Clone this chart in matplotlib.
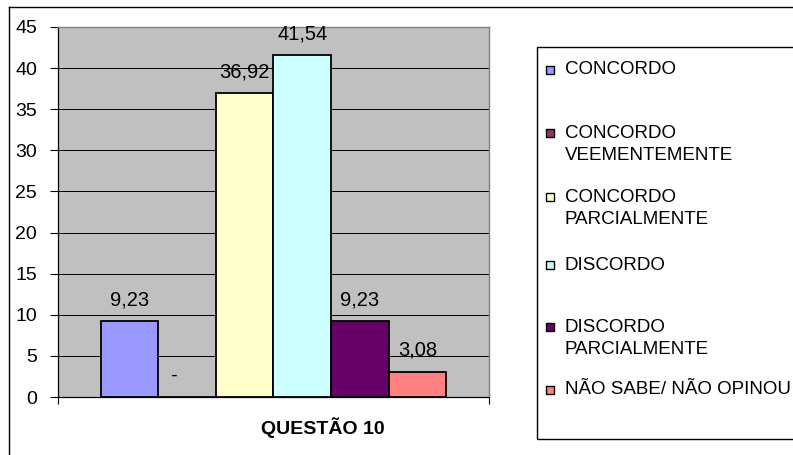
import matplotlib
matplotlib.use("Agg")
import matplotlib.pyplot as plt
from matplotlib.patches import Rectangle
from matplotlib.lines import Line2D
import numpy as np

plt.rcParams['font.family'] = ['Liberation Sans', 'DejaVu Sans']

categories = ["CONCORDO", "CONCORDO\nVEEMENTEMENTE", "CONCORDO\nPARCIALMENTE",
              "DISCORDO", "DISCORDO\nPARCIALMENTE", "NÃO SABE/ NÃO OPINOU"]
values = [9.23, 0.0, 36.92, 41.54, 9.23, 3.08]
value_labels = ["9,23", "-", "36,92", "41,54", "9,23", "3,08"]
colors = ["#9999FF", "#993366", "#FFFFCC", "#CCFFFF", "#660066", "#FF8080"]
xlabel = "QUESTÃO 10"
yticks = [0, 5, 10, 15, 20, 25, 30, 35, 40, 45]

W, H = 793, 455
fig = plt.figure(figsize=(W / 100, H / 100), dpi=100)

def fx(px):
    return px / W

def fy(py):
    return 1 - py / H

# outer chart border (top and left visible)
fig.add_artist(Line2D([fx(9), 1.0], [fy(7), fy(7)], color="black", lw=1.0))
fig.add_artist(Line2D([fx(9), fx(9)], [fy(7), 0.0], color="black", lw=1.0))

ax = fig.add_axes([fx(58), fy(397), fx(489) - fx(58), fy(27) - fy(397)])
ax.set_facecolor("#C0C0C0")
x = np.arange(len(values))
ax.bar(x, values, width=1.0, color=colors, edgecolor="black", linewidth=1.3, zorder=3)
ax.set_xlim(-0.5 - 0.74, len(values) - 0.5 + 0.74)
ax.set_ylim(0, 45)
ax.set_yticks(yticks)
ax.set_yticklabels([str(t) for t in yticks], fontsize=14)
ax.yaxis.grid(True, color="black", linewidth=0.7, zorder=0)
ax.set_axisbelow(True)
ax.tick_params(axis="y", direction="out", length=6, width=0.8, pad=9)
ax.set_xticks([ax.get_xlim()[0], ax.get_xlim()[1]])
ax.set_xticklabels(["", ""])
ax.tick_params(axis="x", direction="out", length=5, width=0.8)
for s in ["left", "bottom"]:
    ax.spines[s].set_color("black")
    ax.spines[s].set_linewidth(0.9)
for s in ["top", "right"]:
    ax.spines[s].set_color("#808080")
    ax.spines[s].set_linewidth(1.0)

for i, (v, lab) in enumerate(zip(values, value_labels)):
    dx = -14 if lab == "-" else 0
    ax.annotate(lab, xy=(x[i], v), xytext=(dx, 16), textcoords="offset pixels",
                ha="center", va="baseline", fontsize=14.5, zorder=5)

fig.text(fx(323), fy(428), xlabel, ha="center", va="center", fontsize=14,
         fontweight="bold")

# legend box (extends past right edge)
fig.add_artist(Rectangle((fx(537), fy(439)), 1.2, fy(47) - fy(439),
                         transform=fig.transFigure, fill=False,
                         edgecolor="black", linewidth=1.0, clip_on=False))
marker_y = [70, 133, 197, 265, 327, 390]
for i, name in enumerate(categories):
    y0 = marker_y[i]
    s = 8
    fig.add_artist(Rectangle((fx(550 - s / 2), fy(y0 + s / 2)), s / W, s / H,
                             transform=fig.transFigure, facecolor=colors[i],
                             edgecolor="black", linewidth=1.0))
    for j, line in enumerate(name.split("\n")):
        fig.text(fx(565), fy(y0 + 22 * j), line, ha="left", va="center",
                 fontsize=13.5)

fig.savefig("out.png", dpi=100)
